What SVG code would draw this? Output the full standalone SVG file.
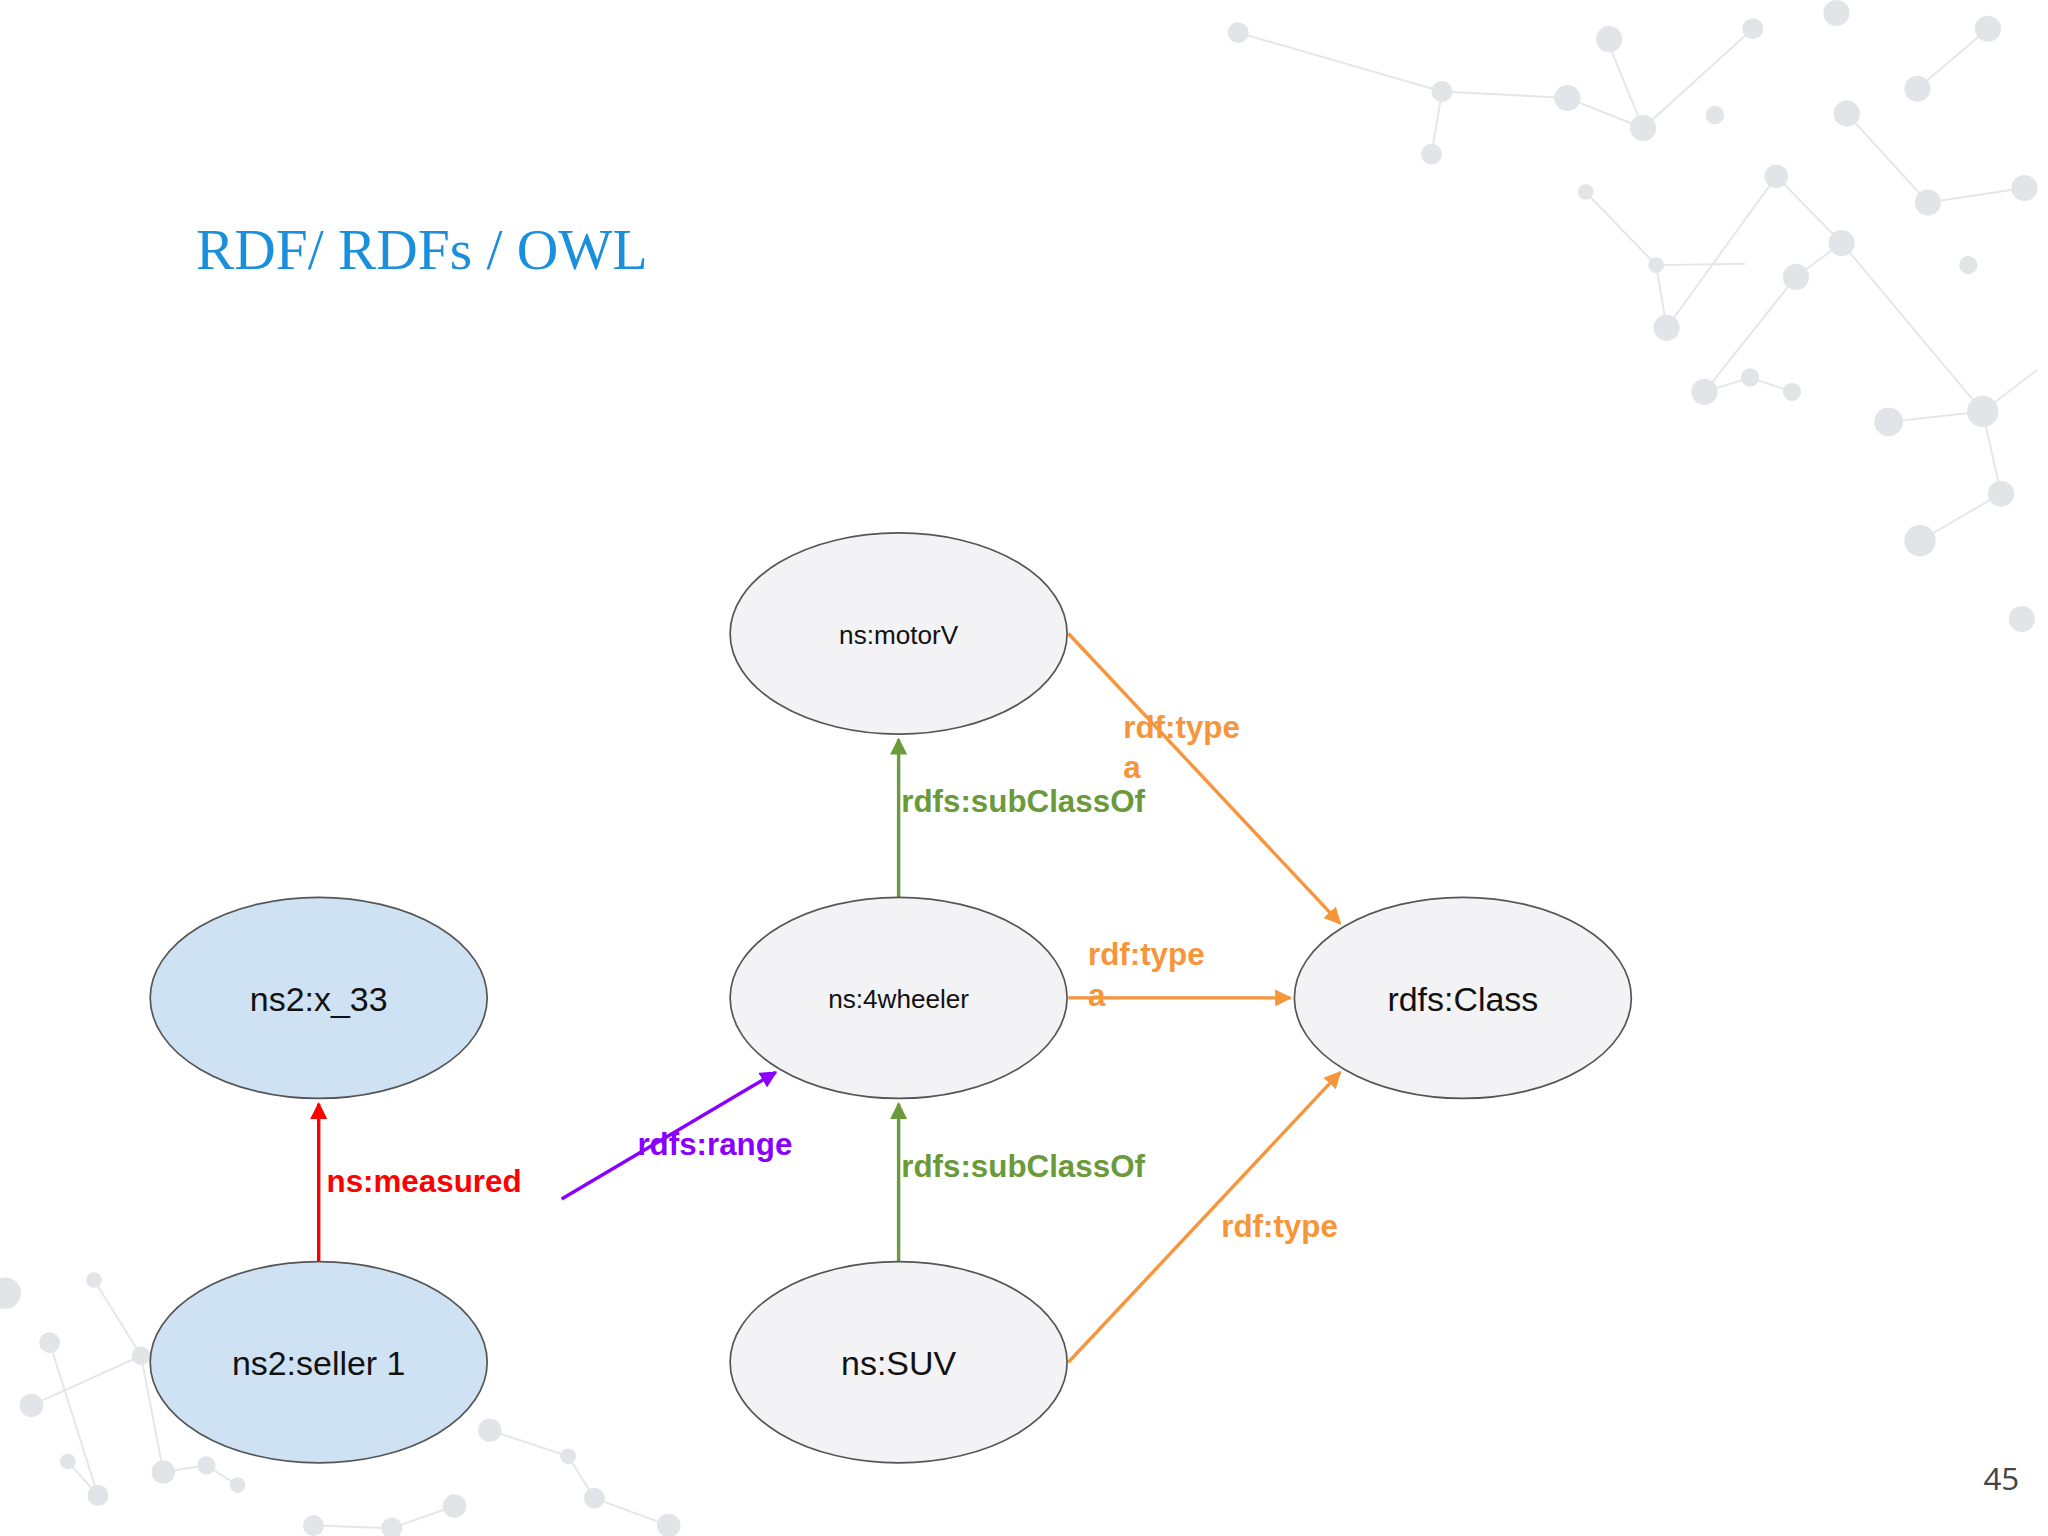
<svg xmlns="http://www.w3.org/2000/svg" width="2048" height="1536" viewBox="0 0 2048 1536">
<defs>
<style>
.n{stroke:#555;stroke-width:1.3}
.g{fill:#f3f2f4}.b{fill:#cfe2f3}
.t{font-family:"Liberation Sans",Arial,sans-serif;fill:#111;text-anchor:middle}
.l{font-family:"Liberation Sans",Arial,sans-serif;font-weight:bold;font-size:24px}
.bg{stroke:#e4e6ea;stroke-width:1.5;fill:none}
.bd{fill:#e2e4e8}
</style>
<marker id="ag" viewBox="0 0 10 10" refX="9" refY="5" markerWidth="5" markerHeight="5" orient="auto"><path d="M0,0L10,5L0,10z" fill="#6a9a3a"/></marker>
<marker id="ao" viewBox="0 0 10 10" refX="9" refY="5" markerWidth="5" markerHeight="5" orient="auto"><path d="M0,0L10,5L0,10z" fill="#f7953a"/></marker>
<marker id="ap" viewBox="0 0 10 10" refX="9" refY="5" markerWidth="5" markerHeight="5" orient="auto"><path d="M0,0L10,5L0,10z" fill="#8a00ff"/></marker>
<marker id="ar" viewBox="0 0 10 10" refX="9" refY="5" markerWidth="5" markerHeight="5" orient="auto"><path d="M0,0L10,5L0,10z" fill="#f00"/></marker>
</defs>
<rect width="2048" height="1536" fill="#fff"/>
<g transform="scale(1.30612)">
<g id="background">
<path class="bg" d="M948,25L1104,70L1200,75L1258,98L1342,22M1104,70L1096,118M1258,98L1230,30M1214,147L1268,203L1276,251L1360,135L1410,186L1375,212L1305,300L1340,289L1372,300M1410,186L1518,315L1446,323M1518,315L1532,378L1470,414M1518,315L1560,283M1414,87L1476,155L1550,144M1468,68L1522,22M1268,203L1336,202M72,980L108,1038L125,1127L158,1122L182,1137M38,1028L75,1145L52,1119M108,1038L24,1076M375,1095L435,1115L455,1147L512,1168M348,1153L300,1170L240,1168"/>
<g class="bd"><circle cx="948" cy="25" r="8"/><circle cx="1104" cy="70" r="8"/><circle cx="1200" cy="75" r="10"/><circle cx="1258" cy="98" r="10"/><circle cx="1342" cy="22" r="8"/><circle cx="1096" cy="118" r="8"/><circle cx="1232" cy="30" r="10"/><circle cx="1214" cy="147" r="6"/><circle cx="1268" cy="203" r="6"/><circle cx="1276" cy="251" r="10"/><circle cx="1360" cy="135" r="9"/><circle cx="1410" cy="186" r="10"/><circle cx="1375" cy="212" r="10"/><circle cx="1305" cy="300" r="10"/><circle cx="1340" cy="289" r="7"/><circle cx="1372" cy="300" r="7"/><circle cx="1518" cy="315" r="12"/><circle cx="1446" cy="323" r="11"/><circle cx="1532" cy="378" r="10"/><circle cx="1470" cy="414" r="12"/><circle cx="1414" cy="87" r="10"/><circle cx="1476" cy="155" r="10"/><circle cx="1550" cy="144" r="10"/><circle cx="1468" cy="68" r="10"/><circle cx="1522" cy="22" r="10"/><circle cx="1507" cy="203" r="7"/><circle cx="1406" cy="10" r="10"/><circle cx="1313" cy="88" r="7"/><circle cx="1548" cy="474" r="10"/><circle cx="72" cy="980" r="6"/><circle cx="108" cy="1038" r="7"/><circle cx="125" cy="1127" r="9"/><circle cx="158" cy="1122" r="7"/><circle cx="182" cy="1137" r="6"/><circle cx="38" cy="1028" r="8"/><circle cx="75" cy="1145" r="8"/><circle cx="52" cy="1119" r="6"/><circle cx="24" cy="1076" r="9"/><circle cx="375" cy="1095" r="9"/><circle cx="435" cy="1115" r="6"/><circle cx="455" cy="1147" r="8"/><circle cx="512" cy="1168" r="9"/><circle cx="348" cy="1153" r="9"/><circle cx="300" cy="1170" r="8"/><circle cx="240" cy="1168" r="8"/><circle cx="4" cy="990" r="12"/></g>
</g>
<text x="150" y="206" font-family="'Liberation Serif','DejaVu Serif',serif" font-size="44" fill="#1a8fdc">RDF/ RDFs / OWL</text>
<g id="connectors" fill="none" stroke-width="2.6">
<line x1="688" y1="688" x2="688" y2="566" stroke="#6a9a3a" marker-end="url(#ag)"/>
<line x1="688" y1="966" x2="688" y2="845" stroke="#6a9a3a" marker-end="url(#ag)"/>
<line x1="818" y1="485" x2="1026" y2="707" stroke="#f7953a" marker-end="url(#ao)"/>
<line x1="818" y1="764" x2="988" y2="764" stroke="#f7953a" marker-end="url(#ao)"/>
<line x1="818" y1="1043" x2="1026" y2="821" stroke="#f7953a" marker-end="url(#ao)"/>
<line x1="430" y1="918" x2="594" y2="821" stroke="#8a00ff" marker-end="url(#ap)"/>
<line x1="244" y1="966" x2="244" y2="845" stroke="#f00" marker-end="url(#ar)"/>
<text class="l" x="690" y="622" fill="#6a9a3a">rdfs:subClassOf</text>
<text class="l" x="690" y="901" fill="#6a9a3a">rdfs:subClassOf</text>
<text class="l" x="860" y="565" fill="#f7953a">rdf:type</text>
<text class="l" x="860" y="596" fill="#f7953a">a</text>
<text class="l" x="833" y="739" fill="#f7953a">rdf:type</text>
<text class="l" x="833" y="770" fill="#f7953a">a</text>
<text class="l" x="935" y="947" fill="#f7953a">rdf:type</text>
<text class="l" x="488" y="884" fill="#8a00ff">rdfs:range</text>
<text class="l" x="250" y="913" fill="#f00">ns:measured</text>
</g>
<g id="motorV"><ellipse class="n g" cx="688" cy="485" rx="129" ry="77"/><text class="t" x="688" y="493" font-size="20">ns:motorV</text></g>
<g id="fourwheeler"><ellipse class="n g" cx="688" cy="764" rx="129" ry="77"/><text class="t" x="688" y="772" font-size="20">ns:4wheeler</text></g>
<g id="SUV"><ellipse class="n g" cx="688" cy="1043" rx="129" ry="77"/><text class="t" x="688" y="1053" font-size="26">ns:SUV</text></g>
<g id="rdfsClass"><ellipse class="n g" cx="1120" cy="764" rx="129" ry="77"/><text class="t" x="1120" y="774" font-size="26">rdfs:Class</text></g>
<g id="x33"><ellipse class="n b" cx="244" cy="764" rx="129" ry="77"/><text class="t" x="244" y="774" font-size="26">ns2:x_33</text></g>
<g id="seller1"><ellipse class="n b" cx="244" cy="1043" rx="129" ry="77"/><text class="t" x="244" y="1053" font-size="26">ns2:seller 1</text></g>
<text x="1546" y="1141" font-family="'Open Sans','DejaVu Sans',sans-serif" font-size="24" fill="#444" text-anchor="end">45</text>
</g>
</svg>
